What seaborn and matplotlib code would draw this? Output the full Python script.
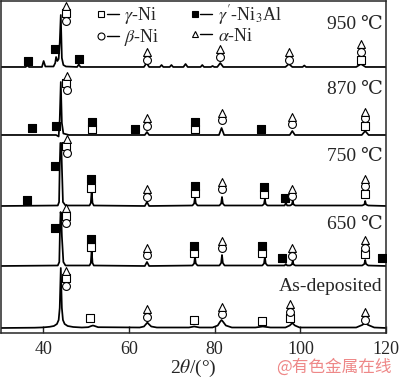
import matplotlib
matplotlib.use("Agg")
import matplotlib.pyplot as plt
import seaborn as sns
import pandas as pd
from matplotlib.lines import Line2D
from matplotlib.legend_handler import HandlerTuple

sns.set_style("ticks")
plt.rcParams["font.family"] = ["Liberation Serif", "DejaVu Serif"]
plt.rcParams["mathtext.fontset"] = "stix"

# ---------------- data ----------------
samples = ["950 ℃", "870 ℃", "750 ℃", "650 ℃", "As-deposited"]

# XRD traces: 2theta (deg) and intensity above each trace's baseline (a.u.)
x950 = [30.2, 35.9, 36.3, 36.7, 39.7, 40.1, 40.5, 42.4, 42.8, 43.0, 43.3, 43.6, 43.85, 44.1, 44.35,
        44.7, 45.3, 47.9, 48.3, 48.7, 52.0, 63.5, 64.1, 64.7, 67.2, 67.6, 68.0, 69.5, 69.9, 70.3,
        72.7, 73.2, 73.7, 76.7, 77.1, 77.5, 79.1, 79.5, 79.9, 80.6, 81.3, 82.0, 90.0, 96.5, 97.3,
        98.1, 100.5, 100.9, 101.3, 113.0, 114.1, 115.2, 120.0]
y950 = [0, 0, 1.5, 0, 0, 6, 0.5, 0.5, 4, 10, 6, 8, 24, 52, 9, 2, 0.5, 0, 2.5, 0, 0, 0, 4, 0, 0, 2,
        0, 0, 2, 0, 0, 3, 0, 0, 2, 0, 0, 1, 0, 0, 4, 0, 0, 0, 3, 0, 0, 1.5, 0, 0, 3, 0, 0]

x870 = [30.2, 43.0, 43.6, 43.85, 44.1, 44.35, 44.7, 46.0, 63.7, 64.2, 64.7, 81.0, 81.6, 82.2,
        97.5, 98.1, 98.7, 114.3, 115.1, 115.9, 120.0]
y870 = [0, 0, -1.5, 15, 53, 12, 1.5, 0, 0, 3, 0, 0, 7, 0, 0, 4, 0, 0, 4, 0, 0]

x750 = [30.2, 43.4, 43.7, 43.85, 44.0, 44.2, 44.35, 44.6, 45.2, 50.8, 51.1, 51.3, 51.5, 51.8,
        63.7, 64.2, 64.7, 74.8, 75.2, 75.4, 75.6, 76.0, 81.1, 81.5, 81.7, 81.9, 82.3, 91.1, 91.5,
        91.7, 91.9, 92.3, 96.3, 96.6, 96.9, 97.6, 98.0, 98.2, 98.4, 98.8, 114.4, 114.9, 115.1,
        115.3, 115.8, 120.0]
y750 = [0, 0.5, 4, 40, 63, 63, 40, 4, 0.5, 0.5, 3, 15, 3, 0.5, 0, 4, 0, 0.5, 2.5, 9, 2.5, 0.5,
        0.5, 2.5, 9, 2.5, 0.5, 0.5, 2, 7, 2, 0.5, 0.5, 3, 0.5, 0.5, 1.5, 5, 1.5, 0.5, 0.5, 1.5,
        5, 1.5, 0.5, 0]

x650 = [30.2, 43.4, 43.75, 43.9, 44.05, 44.2, 44.35, 44.7, 45.2, 50.8, 51.1, 51.3, 51.5, 51.8,
        63.7, 64.2, 64.7, 74.8, 75.2, 75.4, 75.6, 76.0, 81.1, 81.5, 81.7, 81.9, 82.3, 91.1, 91.5,
        91.7, 91.9, 92.3, 96.3, 96.6, 96.9, 97.6, 98.0, 98.2, 98.4, 98.8, 114.4, 114.9, 115.1,
        115.3, 115.8, 120.0]
y650 = [0, 0.5, 4, 35, 54, 50, 30, 4, 0.5, 0.5, 3, 16, 3, 0.5, 0, 4, 0, 0.5, 2.5, 9, 2.5, 0.5,
        0.5, 3, 11, 3, 0.5, 0.5, 2.5, 9, 2.5, 0.5, 0.5, 2, 0.5, 0.5, 1.5, 5, 1.5, 0.5, 0.5, 2, 6,
        2, 0.5, 0]

xad = [30.2, 38.0, 40.0, 41.5, 42.5, 43.2, 43.6, 43.85, 44.1, 44.35, 44.6, 45.0, 45.7, 47.0,
       49.0, 50.5, 51.2, 51.6, 52.0, 52.8, 62.5, 63.5, 64.0, 64.3, 64.6, 65.2, 66.5, 74.0, 75.2,
       76.5, 79.5, 80.7, 81.3, 81.6, 81.9, 82.6, 84.0, 89.5, 91.2, 93.0, 96.5, 97.5, 98.1, 98.7,
       99.8, 113.0, 114.4, 115.1, 115.8, 117.2, 120.0]
yad = [0, 0.3, 0.6, 1.2, 2, 4, 8, 20, 60, 20, 8, 4, 2, 1, 0.5, 0.8, 2, 2.5, 2, 0.8, 0.5, 1.5, 4,
       5.5, 4, 1.5, 0.5, 0.5, 1.5, 0.5, 0.5, 2.5, 6.5, 8, 6.5, 2.5, 0.5, 0.5, 1.5, 0.5, 0.5, 2.5,
       5, 2.5, 0.5, 0.5, 3, 5, 3, 0.5, 0]

# phase markers: 2theta and height on the stacked intensity scale
gam_x = [45.4, 114.1, 45.4, 51.3, 75.3, 115.1, 45.4, 51.1, 75.3, 91.4, 115.1,
         45.4, 51.1, 75.1, 91.1, 115.1, 45.4, 50.9, 75.1, 91.1, 97.6]
gam_y = [320, 273, 250, 204, 204, 207, 187, 145, 140, 139, 139,
         117, 86, 80, 80, 79, 55, 15, 13, 12, 15]

gp_x = [36.4, 42.8, 48.4, 37.5, 42.9, 51.3, 61.5, 75.3, 90.9,
        36.2, 42.8, 51.1, 75.3, 91.4, 96.5, 42.7, 51.1, 75.1, 91.1, 95.8, 119.0]
gp_y = [272, 284, 274, 205, 207, 211, 204, 211, 204,
        133, 167, 154, 147, 146, 135, 105, 94, 87, 87, 75, 75]

beta_x = [45.4, 64.1, 81.3, 97.4, 114.1, 45.5, 64.3, 81.6, 98.1, 115.1,
          45.5, 64.3, 81.6, 98.1, 115.1, 45.4, 64.3, 81.6, 98.1, 115.1,
          45.4, 64.3, 81.6, 97.6, 115.1]
beta_y = [312, 273, 276, 273, 281, 243, 207, 213, 209, 215,
          180, 136, 144, 137, 147, 110, 78, 85, 77, 85,
          47, 16, 19, 21, 13]

alpha_x = [45.4, 64.1, 81.3, 97.4, 114.1, 45.5, 64.3, 81.6, 98.1, 115.1,
           45.5, 64.3, 81.6, 98.1, 115.1, 45.4, 64.3, 81.6, 98.1, 115.1,
           45.4, 64.3, 81.6, 97.6, 115.1]
alpha_y = [327, 281, 284, 281, 289, 257, 215, 220, 216, 221,
           194, 144, 151, 144, 154, 125, 85, 92, 85, 93,
           62, 24, 26, 29, 21]

phase_labels = [r"$\gamma$-Ni", r"$\beta$-Ni", r"$\gamma'$-Ni$_3$Al", r"$\alpha$-Ni"]
xticks = [40, 60, 80, 100, 120]

# ---------------- layout ----------------
offsets = [266, 198, 127, 67, 5]
label_y = [308, 243, 176, 108, 46]

traces = [(x950, y950), (x870, y870), (x750, y750), (x650, y650), (xad, yad)]
rows = []
for name, (xs, ys), off in zip(samples, traces, offsets):
    for xv, yv in zip(xs, ys):
        rows.append({"2theta": xv, "I": yv + off, "sample": name})
df = pd.DataFrame(rows)

fig = plt.figure(figsize=(4.0, 3.8), dpi=100)
ax = fig.add_axes([0.003, 0.1237, 0.9625, 0.8737])

sns.lineplot(data=df, x="2theta", y="I", hue="sample", palette={s: "black" for s in samples},
             estimator=None, sort=False, legend=False, linewidth=1.25, ax=ax)

msz = 32
sns.scatterplot(x=gam_x, y=gam_y, marker="s", s=msz, facecolor="white", edgecolor="black",
                linewidth=0.8, ax=ax, zorder=5)
sns.scatterplot(x=gp_x, y=gp_y, marker="s", s=msz, facecolor="black", edgecolor="black",
                linewidth=0.8, ax=ax, zorder=5)
sns.scatterplot(x=beta_x, y=beta_y, marker="o", s=msz, facecolor="white", edgecolor="black",
                linewidth=0.8, ax=ax, zorder=5)
sns.scatterplot(x=alpha_x, y=alpha_y, marker="^", s=msz, facecolor="white", edgecolor="black",
                linewidth=0.8, ax=ax, zorder=5)

for name, yy in zip(samples, label_y):
    ax.text(119.2, yy, name, ha="right", va="center", fontsize=14)

ax.set_xlim(30.2, 120)
ax.set_ylim(0, 332)
ax.set_xticks(xticks)
ax.set_yticks([])
ax.set_ylabel("")
ax.set_xlabel(r"2$\mathit{\theta}$/(°)", fontsize=14)
ax.xaxis.set_label_coords(0.5, -0.107)
ax.xaxis.label.set_va("center")
ax.tick_params(axis="x", direction="in", length=5, width=1, labelsize=13, pad=6)
for sp in ax.spines.values():
    sp.set_linewidth(1.1)
    sp.set_visible(True)

def mk(marker, fc):
    return Line2D([], [], marker=marker, ms=5, mfc=fc, mec="black", mew=0.8, ls="none")
line = Line2D([], [], color="black", lw=1.0)
handles = [(mk("s", "white"), line), (mk("o", "white"), line),
           (mk("s", "black"), line), (mk("^", "white"), line)]
ax.legend(handles=handles, labels=phase_labels, ncol=2, loc="upper left",
          bbox_to_anchor=(0.245, 0.995), frameon=False, fontsize=13,
          handler_map={tuple: HandlerTuple(ndivide=None, pad=0.0)},
          handlelength=1.3, handletextpad=0.3, columnspacing=1.6, labelspacing=0.05,
          borderaxespad=0, borderpad=0)

fig.text(0.978, 0.012, "@有色金属在线", ha="right", va="bottom", fontsize=12,
         color="#ee8888", family=["Noto Sans CJK SC", "DejaVu Sans"])

fig.savefig("out.png", dpi=100)
